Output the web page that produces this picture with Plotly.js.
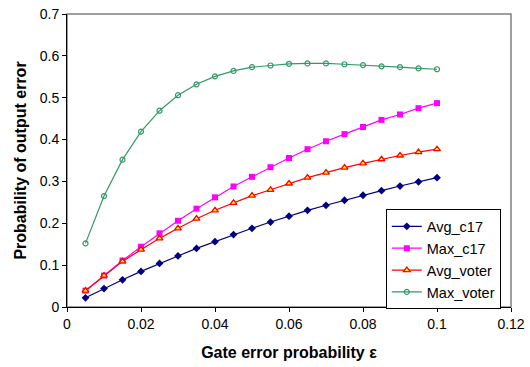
<!DOCTYPE html>
<html>
<head>
<meta charset="utf-8">
<script src="https://cdn.plot.ly/plotly-3.0.1.min.js"></script>
<style>html,body{margin:0;padding:0;background:#fff;}#chart{width:530px;height:367px;}</style>
</head>
<body>
<div id="chart"></div>
<script>
const gateError = [0.005,0.01,0.015,0.02,0.025,0.03,0.035,0.04,0.045,0.05,0.055,0.06,0.065,0.07,0.075,0.08,0.085,0.09,0.095,0.1];
const avgC17 = [0.022,0.044,0.065,0.085,0.104,0.122,0.140,0.156,0.173,0.188,0.203,0.217,0.231,0.243,0.255,0.267,0.278,0.289,0.299,0.309];
const maxC17 = [0.039,0.075,0.111,0.144,0.176,0.206,0.235,0.262,0.288,0.311,0.334,0.356,0.377,0.396,0.413,0.430,0.447,0.460,0.475,0.487];
const avgVoter = [0.039,0.075,0.109,0.137,0.164,0.188,0.211,0.231,0.249,0.266,0.280,0.295,0.309,0.321,0.333,0.343,0.353,0.362,0.370,0.377];
const maxVoter = [0.152,0.265,0.352,0.419,0.469,0.506,0.532,0.551,0.564,0.573,0.577,0.581,0.582,0.582,0.580,0.578,0.575,0.573,0.570,0.568];
const xTicks = [0,0.02,0.04,0.06,0.08,0.1,0.12];
const xTickLabels = ["0","0.02","0.04","0.06","0.08","0.1","0.12"];
const yTicks = [0,0.1,0.2,0.3,0.4,0.5,0.6,0.7];
const yTickLabels = ["0","0.1","0.2","0.3","0.4","0.5","0.6","0.7"];

const traces = [
  {x: gateError, y: avgC17, name: "Avg_c17", mode: "lines+markers",
   line: {color: "#000080", width: 1.2},
   marker: {symbol: "diamond", size: 6, color: "#000080", line: {width: 0}}},
  {x: gateError, y: maxC17, name: "Max_c17", mode: "lines+markers",
   line: {color: "#FF00FF", width: 1.2},
   marker: {symbol: "square", size: 6, color: "#FF00FF", line: {width: 0}}},
  {x: gateError, y: avgVoter, name: "Avg_voter", mode: "lines+markers",
   line: {color: "#FF0000", width: 1.2},
   marker: {symbol: "triangle-up", size: 6, color: "#FFFF00", line: {color: "#FF0000", width: 1.3}}},
  {x: gateError, y: maxVoter, name: "Max_voter", mode: "lines+markers",
   line: {color: "#339966", width: 1.2},
   marker: {symbol: "circle-open", size: 5, color: "#339966", line: {color: "#339966", width: 1.2}}}
];

const layout = {
  width: 530, height: 367,
  margin: {l: 67, r: 19, t: 14, b: 60},
  paper_bgcolor: "#fff", plot_bgcolor: "#fff",
  font: {family: "Liberation Sans, Arial, sans-serif", size: 14, color: "#000"},
  showlegend: true,
  legend: {x: 0.718, y: 0.333, xanchor: "left", yanchor: "top",
           bgcolor: "#fff", bordercolor: "#000", borderwidth: 1,
           font: {size: 14.5, family: "Liberation Sans, Arial, sans-serif"}},
  xaxis: {range: [0, 0.12], tickvals: xTicks, ticktext: xTickLabels,
          showgrid: false, zeroline: false, showline: true, linecolor: "#000", linewidth: 1,
          ticks: "outside", ticklen: 4, tickcolor: "#000",
          title: {text: "<b>Gate error probability ε</b>", font: {size: 16}, standoff: 16}},
  yaxis: {range: [0, 0.7], tickvals: yTicks, ticktext: yTickLabels,
          showgrid: false, zeroline: false, showline: true, linecolor: "#000", linewidth: 1,
          ticks: "outside", ticklen: 4, tickcolor: "#000",
          title: {text: "<b>Probability of output error</b>", font: {size: 16}, standoff: 9}},
  shapes: [{type: "rect", xref: "paper", yref: "paper", x0: 0, x1: 1, y0: 0, y1: 1,
            line: {color: "#808080", width: 1.5}, layer: "below"}]
};

Plotly.newPlot("chart", traces, layout, {displayModeBar: false, staticPlot: true});
</script>
</body>
</html>
